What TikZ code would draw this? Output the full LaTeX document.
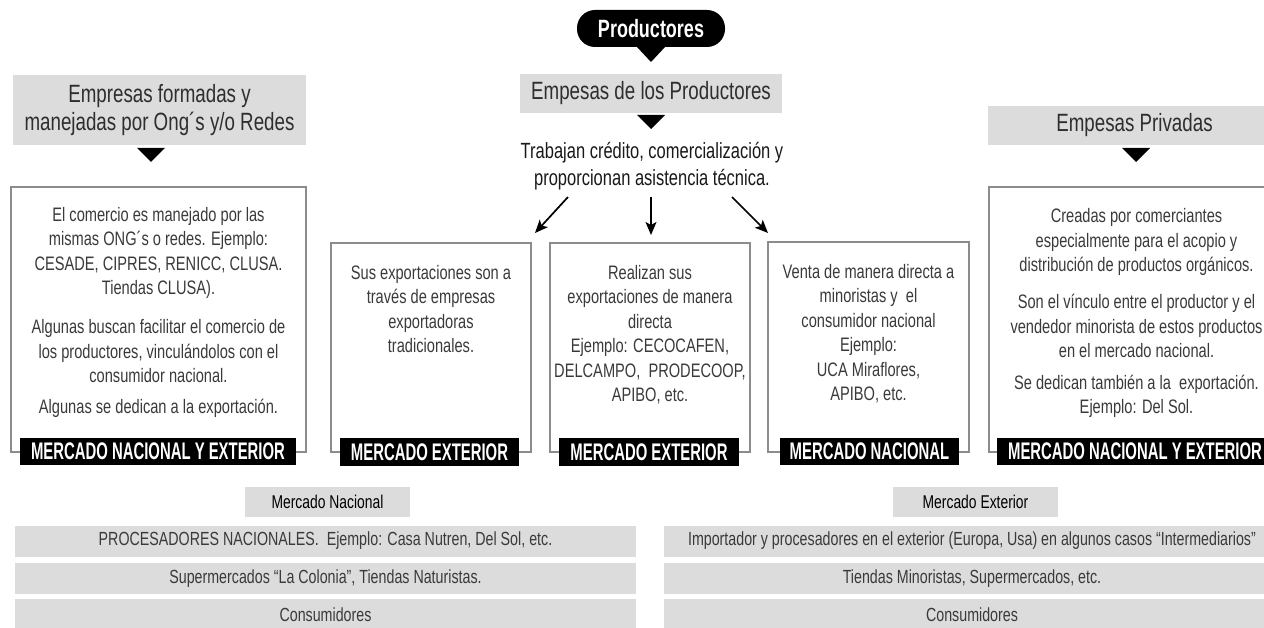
\documentclass[tikz,border=0pt]{standalone}
\usepackage{fontspec}
\setmainfont[FakeStretch=0.75]{Liberation Sans}
\newfontfamily\labfont[FakeStretch=0.62]{Liberation Sans}
\newfontfamily\pillfont[FakeStretch=0.72]{Liberation Sans}
\usetikzlibrary{arrows.meta}
\definecolor{hdrgray}{HTML}{DCDCDC}
\definecolor{boxline}{HTML}{8C8C8C}
\definecolor{txt}{HTML}{3A3A3A}
\begin{document}
\begin{tikzpicture}[x=1pt,y=-1pt,
  hdrbox/.style={fill=hdrgray, draw=none, text=black!82, inner sep=0pt,
    font=\fontsize{25}{27.5}\selectfont, align=center},
  pill/.style={fill=black, text=white, rounded corners=18pt, inner sep=0pt,
    font=\pillfont\fontsize{25}{27}\selectfont\bfseries},
  wbox/.style={draw=boxline, line width=1.3pt, fill=white, inner sep=0pt},
  lab/.style={fill=black, text=white, inner sep=0pt,
    font=\labfont\fontsize{24}{26}\selectfont\bfseries},
  body/.style={text=txt, inner sep=0pt, align=center,
    font=\fontsize{19.5}{24.5}\selectfont},
  rowbox/.style={fill=hdrgray, text=txt, inner sep=0pt,
    font=\fontsize{19}{21}\selectfont},
  mkt/.style={fill=hdrgray, text=black, inner sep=0pt,
    font=\fontsize{18.5}{21}\selectfont},
  arr/.style={line width=1.7pt, -{Stealth[length=13pt,width=11pt,inset=3pt]}},
  tri/.style={fill=black}
]
\useasboundingbox (0,0) rectangle (1264,628);
\clip (0,0) rectangle (1264,628);

% top
\node[pill, minimum width=148pt, minimum height=37pt] (prod) at (651,28.5) {Productores};
\fill[tri] (637,47) -- (665,47) -- (651,62) -- cycle;
\node[hdrbox, minimum width=262pt, minimum height=39pt] (hM) at (651,93.5) {Empesas de los Productores};
\fill[tri] (637,115) -- (665,115) -- (651,129) -- cycle;
\node[inner sep=0pt, align=center, text=black!90, font=\fontsize{22}{27}\selectfont] (trab) at (652,166.5)
  {Trabajan crédito, comercialización y\\proporcionan asistencia técnica.};

% side headers
\node[hdrbox, minimum width=293pt, minimum height=70pt] (hL) at (159.5,110) {Empresas formadas y\\manejadas por Ong´s y/o Redes};
\fill[tri] (137,148) -- (165,148) -- (151,162) -- cycle;
\node[hdrbox, minimum width=293pt, minimum height=39pt] (hR) at (1134.5,125.5) {Empesas Privadas};
\fill[tri] (1122,148) -- (1150,148) -- (1136,162) -- cycle;

% boxes
\node[wbox, minimum width=295pt, minimum height=265pt] (bL) at (158.5,319.5) {};
\node[wbox, minimum width=200pt, minimum height=209pt] (b1) at (431,347.5) {};
\node[wbox, minimum width=200pt, minimum height=209pt] (b2) at (650,347.5) {};
\node[wbox, minimum width=201pt, minimum height=210pt] (b3) at (868.5,347) {};
\node[wbox, minimum width=295pt, minimum height=265pt] (bR) at (1136.5,319.5) {};

% arrows
\coordinate (a1s) at (568,197); \coordinate (a1e) at (535,233);
\coordinate (a2s) at (651,197); \coordinate (a2e) at (651,235);
\coordinate (a3s) at (732,197); \coordinate (a3e) at (768,233);
\draw[arr] (a1s) -- (a1e);
\draw[arr] (a2s) -- (a2e);
\draw[arr] (a3s) -- (a3e);

% left box text
\node[body] (tL1) at (158.5,253) {El comercio es manejado por las\\mismas ONG´s o redes. Ejemplo:\\CESADE, CIPRES, RENICC, CLUSA.\\Tiendas CLUSA).};
\node[body] (tL2) at (158.5,351.5) {Algunas buscan facilitar el comercio de\\los productores, vinculándolos con el\\consumidor nacional.};
\node[body] (tL3) at (158.5,408) {Algunas se dedican a la exportación.};

% middle boxes text
\node[body] (t1) at (431,309) {Sus exportaciones son a\\través de empresas\\exportadoras\\tradicionales.};
\node[body] (t2) at (650,334.5) {Realizan sus\\exportaciones de manera\\directa\\Ejemplo: CECOCAFEN,\\DELCAMPO,\ \ PRODECOOP,\\APIBO, etc.};
\node[body] (t3) at (868.5,333.5) {Venta de manera directa a\\minoristas y\ \ el\\consumidor nacional\\Ejemplo:\\UCA Miraflores,\\APIBO, etc.};

% right box text
\node[body] (tR1) at (1136.5,242) {Creadas por comerciantes\\especialmente para el acopio y\\distribución de productos orgánicos.};
\node[body] (tR2) at (1136.5,326) {Son el vínculo entre el productor y el\\vendedor minorista de estos productos\\en el mercado nacional.};
\node[body] (tR3) at (1136.5,396.5) {Se dedican también a la\ \ exportación.\\Ejemplo: Del Sol.};

% labels
\node[lab, minimum width=276pt, minimum height=27pt] (lL) at (158,451.5) {MERCADO NACIONAL Y EXTERIOR};
\node[lab, minimum width=179pt, minimum height=28pt] (l1) at (429.5,452) {MERCADO EXTERIOR};
\node[lab, minimum width=180pt, minimum height=28pt] (l2) at (649,452) {MERCADO EXTERIOR};
\node[lab, minimum width=179pt, minimum height=27pt] (l3) at (869.5,451.5) {MERCADO NACIONAL};
\node[lab, minimum width=276pt, minimum height=27pt] (lR) at (1135,451.5) {MERCADO NACIONAL Y EXTERIOR};

% bottom
\node[mkt, minimum width=165pt, minimum height=30pt] (mN) at (327.5,502) {Mercado Nacional};
\node[mkt, minimum width=165pt, minimum height=30pt] (mE) at (975.5,502) {Mercado Exterior};
\node[rowbox, minimum width=621pt, minimum height=31pt] (rN1) at (325.5,541) {PROCESADORES NACIONALES.\ \ Ejemplo: Casa Nutren, Del Sol, etc.};
\node[rowbox, minimum width=621pt, minimum height=31pt] (rN2) at (325.5,578.5) {Supermercados “La Colonia”, Tiendas Naturistas.};
\node[rowbox, minimum width=621pt, minimum height=31pt] (rN3) at (325.5,614.5) {Consumidores};
\node[rowbox, minimum width=616pt, minimum height=31pt] (rE1) at (972,541) {Importador y procesadores en el exterior (Europa, Usa) en algunos casos “Intermediarios”};
\node[rowbox, minimum width=616pt, minimum height=31pt] (rE2) at (972,578.5) {Tiendas Minoristas, Supermercados, etc.};
\node[rowbox, minimum width=616pt, minimum height=31pt] (rE3) at (972,614.5) {Consumidores};
\end{tikzpicture}
\end{document}
